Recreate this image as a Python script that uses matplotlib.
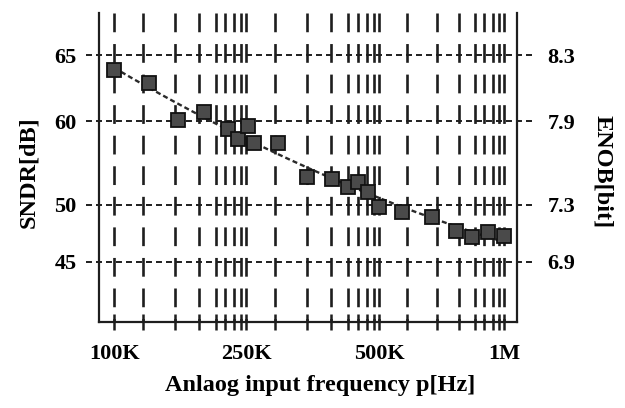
import numpy as np
import matplotlib
matplotlib.use("Agg")
import matplotlib.pyplot as plt
import matplotlib.transforms as mtransforms

plt.rcParams['font.family'] = ['Liberation Serif', 'DejaVu Serif']
plt.rcParams['font.weight'] = 'bold'
plt.rcParams['lines.scale_dashes'] = False

# measured points: input frequency [kHz] and SNDR [dB]
freq_khz = [100, 127, 156, 186, 221, 236, 253, 260, 296, 344, 392,
            426, 447, 471, 501, 567, 672, 765, 836, 914, 1000]
sndr_db = [63.9, 62.9, 60.1, 60.7, 59.1, 57.9, 59.4, 57.4, 57.4, 53.3, 53.1,
           52.1, 52.7, 51.5, 49.8, 49.4, 48.9, 47.7, 47.2, 47.6, 47.3]

# axis ticks
x_major = [100, 250, 500, 1000]
x_labels = ['100K', '250K', '500K', '1M']
y_ticks = [45, 50, 60, 65]
y_labels = ['45', '50', '60', '65']
enob_labels = ['6.9', '7.3', '7.9', '8.3']

# the original axes are not uniform: each labelled span is its own log segment
XF = [10, 100, 250, 500, 1000, 10000]
XP = [-217, 114, 246, 379, 504, 919]
YD = [30, 45, 50, 60, 65, 80]
YP = [-433, -262, -205, -121, -55, 143]

GRID_FRAC = [0.22, 0.46, 0.64, 0.77, 0.84, 0.91, 0.96]


def fwd_x(f):
    f = np.clip(np.asarray(f, dtype=float), 1e-9, None)
    return np.interp(np.log10(f), np.log10(XF), XP)


def inv_x(p):
    return 10 ** np.interp(p, XP, np.log10(XF))


def fwd_y(d):
    return np.interp(d, YD, YP)


def inv_y(p):
    return np.interp(p, YP, YD)


fig = plt.figure(figsize=(6.25, 4.08), dpi=100)
ax = fig.add_axes([99 / 625, 1 - 322 / 408, 418 / 625, 309 / 408])
ax.set_xscale('function', functions=(fwd_x, inv_x))
ax.set_yscale('function', functions=(fwd_y, inv_y))
ax.set_xlim(90, 1075)
ax.set_ylim(39.7, 68.2)

ink = '#1e1e1e'

# vertical dashed grid (segment starts + inner lines)
x_minor = []
for a, b in zip(x_major[:-1], x_major[1:]):
    for fr in GRID_FRAC:
        x_minor.append(a * (b / a) ** fr)
for f in x_major + x_minor:
    ax.axvline(f, ymin=1, ymax=0, color=ink, lw=1.9,
               ls=(0, (13.5, 8.5)), zorder=1)

# horizontal dashed grid, running a little past the frame
trans = mtransforms.blended_transform_factory(ax.transAxes, ax.transData)
for d in y_ticks:
    ax.plot([-0.03, 1.04], [d, d], transform=trans, clip_on=False,
            color=ink, lw=1.4, ls=(0, (4.3, 2.9)), zorder=1)

# trend line (quadratic fit in plotted coordinates)
px = fwd_x(freq_khz)
py = fwd_y(sndr_db)
coef = np.polyfit(px, py, 2)
xs = np.linspace(px[0], px[-1], 200)
ax.plot(inv_x(xs), inv_y(np.polyval(coef, xs)), color='#2a2a2a', lw=1.7,
        ls=(0, (3.6, 2.2)), zorder=3)

ax.plot(freq_khz, sndr_db, ls='none', marker='s', ms=9.5, mfc='#4a4a4a',
        mec='#111111', mew=1.3, zorder=4)

for s in ['left', 'right', 'bottom']:
    ax.spines[s].set_linewidth(1.6)
    ax.spines[s].set_color(ink)
ax.spines['top'].set_visible(False)

ax.set_xticks(x_major)
ax.set_xticklabels(x_labels)
ax.set_xticks(x_minor, minor=True)
ax.xaxis.set_minor_formatter(plt.NullFormatter())
ax.tick_params(axis='x', which='both', direction='inout', length=12,
               width=1.8, color=ink, pad=10, labelsize=16)

ax.set_yticks(y_ticks)
ax.set_yticklabels(y_labels)
ax.yaxis.set_minor_locator(plt.NullLocator())
ax.tick_params(axis='y', length=0, pad=16, labelsize=16)

ax2 = ax.twinx()
ax2.set_yscale('function', functions=(fwd_y, inv_y))
ax2.set_ylim(ax.get_ylim())
ax2.set_yticks(y_ticks)
ax2.set_yticklabels(enob_labels)
ax2.yaxis.set_minor_locator(plt.NullLocator())
ax2.tick_params(axis='y', length=0, pad=22, labelsize=16)
for s in ax2.spines.values():
    s.set_visible(False)

fig.text(29 / 625, 1 - 172 / 408, 'SNDR[dB]', rotation=90, ha='center',
         va='center', fontsize=17.5)
fig.text(603 / 625, 1 - 172 / 408, 'ENOB[bit]', rotation=270, ha='center',
         va='center', fontsize=17.5)
fig.text(320 / 625, 1 - 385 / 408, 'Anlaog input frequency p[Hz]',
         ha='center', va='center', fontsize=17.5)

fig.savefig('out.png', dpi=100)
